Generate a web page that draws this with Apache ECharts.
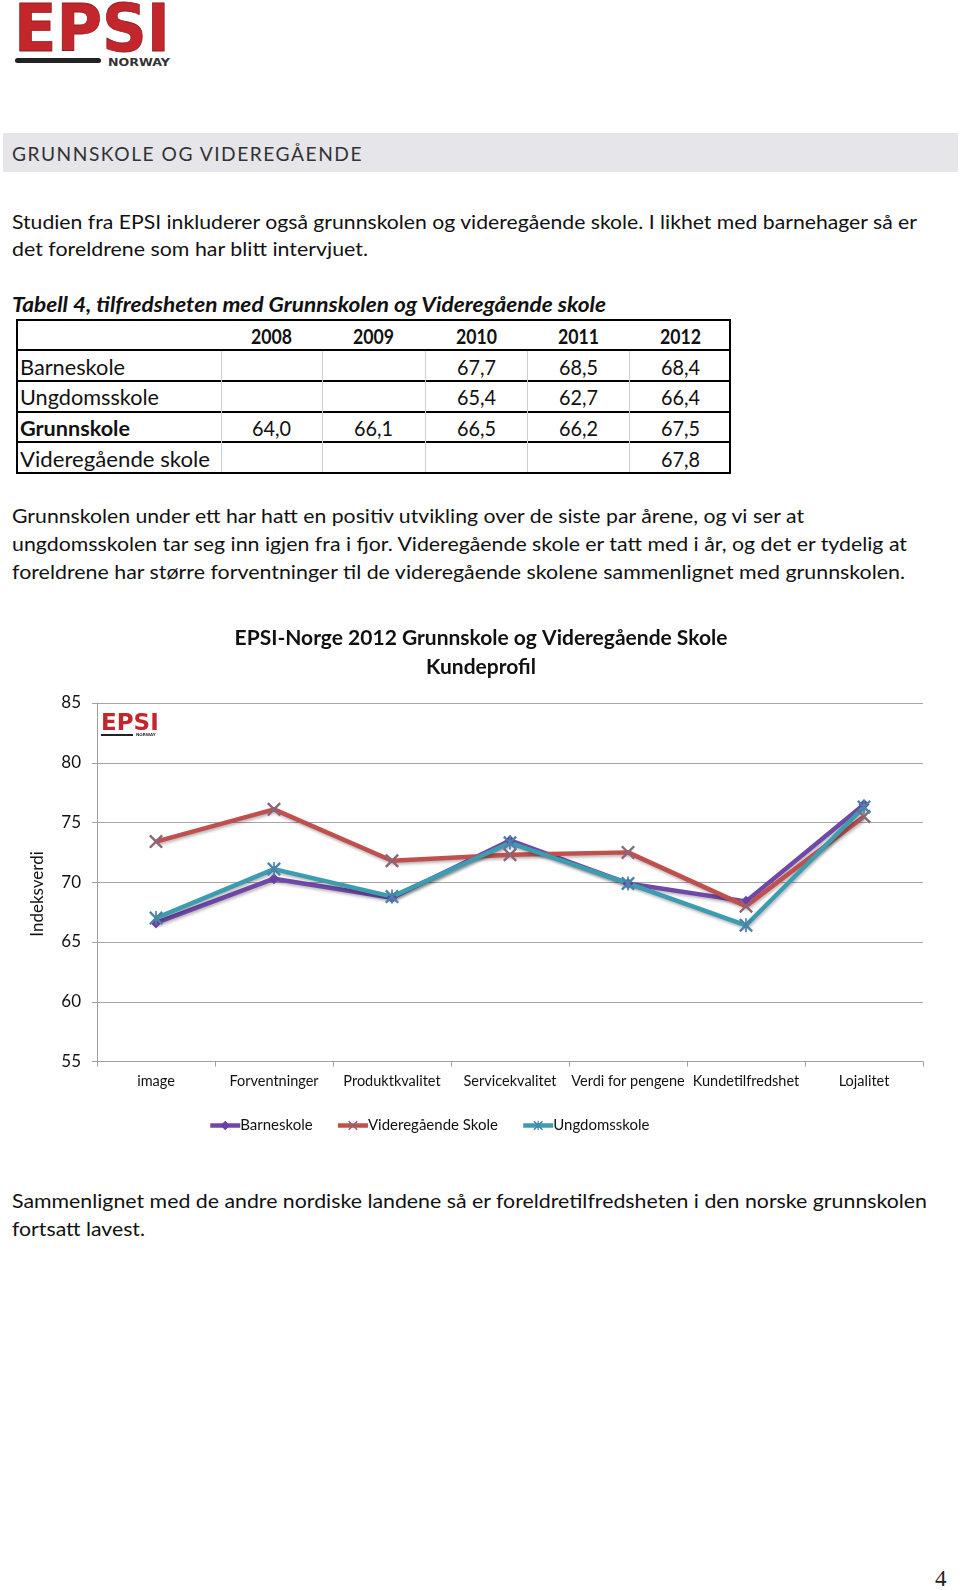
<!DOCTYPE html>
<html>
<head>
<meta charset="utf-8">
<script src="https://cdn.jsdelivr.net/npm/echarts/dist/echarts.min.js"></script>
<style>
  html, body { margin:0; padding:0; background:#fff; }
  #page { position:relative; width:960px; height:1590px; overflow:hidden; background:#fff; font-family:Lato, "Open Sans", sans-serif; color:#111; }
  .ln { position:absolute; white-space:nowrap; line-height:26px; transform-origin:0 50%; }
  .hl { position:absolute; background:#000; }
  .vl { position:absolute; background:#c5cdd8; }
  #chart { position:absolute; left:0; top:600px; width:960px; height:560px; }
</style>
</head>
<body>
<div id="page">
  <svg style="position:absolute;left:0;top:0" width="200" height="80">
    <text x="14" y="51" font-family="DejaVu Sans" font-weight="bold" font-size="66" fill="#c3272b" stroke="#8a1c1f" stroke-width="0.8" textLength="156" lengthAdjust="spacingAndGlyphs">EPSI</text>
    <rect x="15" y="58" width="86" height="5" rx="2.5" fill="#222"/>
    <text x="108" y="66" font-family="DejaVu Sans" font-weight="bold" font-size="10" fill="#333" textLength="62" lengthAdjust="spacingAndGlyphs">NORWAY</text>
  </svg>
  <div style="position:absolute;left:3px;top:133px;width:955px;height:39px;background:#e5e5ea;"></div>
  <div id="chart"></div>
</div>
<script>
// ---------- chart data ----------
const categories = ['image', 'Forventninger', 'Produktkvalitet', 'Servicekvalitet', 'Verdi for pengene', 'Kundetilfredshet', 'Lojalitet'];
const seriesNames = ['Barneskole', 'Videregående Skole', 'Ungdomsskole'];
const barneskole   = [66.6, 70.3, 68.7, 73.5, 69.9, 68.4, 76.5];
const videregaende = [73.4, 76.1, 71.8, 72.3, 72.5, 68.0, 75.5];
const ungdomsskole = [67.0, 71.1, 68.8, 73.3, 69.9, 66.4, 76.3];
const yTicks = [55, 60, 65, 70, 75, 80, 85];

// ---------- table data ----------
const tableYears = ['2008', '2009', '2010', '2011', '2012'];
const tableLabels = ['Barneskole', 'Ungdomsskole', 'Grunnskole', 'Videregående skole'];
const tBarneskole   = ['', '', '67,7', '68,5', '68,4'];
const tUngdomsskole = ['', '', '65,4', '62,7', '66,4'];
const tGrunnskole   = ['64,0', '66,1', '66,5', '66,2', '67,5'];
const tVideregaende = ['', '', '', '', '67,8'];
const tableRows = [tBarneskole, tUngdomsskole, tGrunnskole, tVideregaende];

const page = document.getElementById('page');

function addLine(o) {
  const d = document.createElement('div');
  d.className = 'ln';
  d.textContent = o.t;
  d.style.fontSize = (o.fs || 20) + 'px';
  if (o.fw) d.style.fontWeight = o.fw;
  if (o.it) d.style.fontStyle = 'italic';
  if (o.ls) d.style.letterSpacing = o.ls + 'px';
  if (o.color) d.style.color = o.color;
  if (o.ff) d.style.fontFamily = o.ff;
  d.style.top = (o.y - 13) + 'px';
  d.style.left = '0px';
  page.appendChild(d);
  const nw = d.getBoundingClientRect().width;
  let sx = 1;
  if (o.w) sx = o.w / nw;
  const realW = nw * sx;
  let left = o.x;
  if (o.cx !== undefined) left = o.cx - realW / 2;
  d.style.left = left + 'px';
  if (sx !== 1) d.style.transform = 'scaleX(' + sx + ')';
  return d;
}

// header band text
addLine({ t: 'GRUNNSKOLE OG VIDEREGÅENDE', x: 12, y: 154, w: 351, fs: 19, ls: 1.5, color: '#333' });

// paragraph 1
addLine({ t: 'Studien fra EPSI inkluderer også grunnskolen og videregående skole. I likhet med barnehager så er', x: 12, y: 221, w: 905 });
addLine({ t: 'det foreldrene som har blitt intervjuet.', x: 12, y: 248, w: 356 });

// table caption
addLine({ t: 'Tabell 4, tilfredsheten med Grunnskolen og Videregående skole', x: 12, y: 304, w: 594, fw: 'bold', it: true, fs: 20.5 });

// table
const colsX = [16, 221, 322, 425, 527, 629, 731];
const rowsY = [319, 350, 381, 411.5, 442, 473];
(function drawTable() {
  const box = document.createElement('div');
  box.style.cssText = 'position:absolute;box-sizing:border-box;border:2px solid #000;left:' + colsX[0] + 'px;top:' + rowsY[0] + 'px;width:' + (colsX[6] - colsX[0]) + 'px;height:' + (rowsY[5] - rowsY[0] + 1) + 'px;';
  page.appendChild(box);
  for (let i = 1; i < 5; i++) {
    const h = document.createElement('div');
    h.className = 'hl';
    h.style.cssText = 'left:' + colsX[0] + 'px;top:' + (rowsY[i] - 1) + 'px;width:' + (colsX[6] - colsX[0]) + 'px;height:2px;';
    page.appendChild(h);
  }
  for (let j = 1; j < 6; j++) {
    const v = document.createElement('div');
    v.className = 'vl';
    v.style.cssText = 'left:' + colsX[j] + 'px;top:' + (rowsY[1] + 1) + 'px;width:1px;height:' + (rowsY[5] - rowsY[1] - 2) + 'px;';
    page.appendChild(v);
  }
  const labelW = [105, 139, 110, 190];
  tableYears.forEach((yr, j) => {
    addLine({ t: yr, cx: (colsX[j + 1] + colsX[j + 2]) / 2, y: (rowsY[0] + rowsY[1]) / 2 + 1, fs: 20, fw: 'bold', w: 41 });
  });
  tableRows.forEach((row, i) => {
    const cy = (rowsY[i + 1] + rowsY[i + 2]) / 2 + 1;
    addLine({ t: tableLabels[i], x: 20, y: cy, w: labelW[i], fs: 21, fw: i === 2 ? 'bold' : null });
    row.forEach((val, j) => {
      if (val) addLine({ t: val, cx: (colsX[j + 1] + colsX[j + 2]) / 2, y: cy, fs: 21, w: 39 });
    });
  });
})();

// paragraph 2
addLine({ t: 'Grunnskolen under ett har hatt en positiv utvikling over de siste par årene, og vi ser at', x: 12, y: 515, w: 792 });
addLine({ t: 'ungdomsskolen tar seg inn igjen fra i fjor. Videregående skole er tatt med i år, og det er tydelig at', x: 12, y: 543, w: 895 });
addLine({ t: 'foreldrene har større forventninger til de videregående skolene sammenlignet med grunnskolen.', x: 12, y: 571, w: 893 });

// paragraph 3
addLine({ t: 'Sammenlignet med de andre nordiske landene så er foreldretilfredsheten i den norske grunnskolen', x: 12, y: 1200, w: 915 });
addLine({ t: 'fortsatt lavest.', x: 12, y: 1228, w: 133 });

// page number
addLine({ t: '4', x: 935, y: 1579, fs: 23, ff: '"Liberation Serif", serif', color: '#222' });

// ---------- chart ----------
const X_PATH = 'path://M0,1.2 L1.2,0 L10,8.8 L8.8,10 Z M8.8,0 L10,1.2 L1.2,10 L0,8.8 Z';
const STAR_PATH = 'path://M0,1.2 L1.2,0 L10,8.8 L8.8,10 Z M8.8,0 L10,1.2 L1.2,10 L0,8.8 Z M4.4,0 L5.6,0 L5.6,10 L4.4,10 Z';
const shadow = { shadowColor: 'rgba(0,0,0,0.28)', shadowBlur: 3, shadowOffsetX: 1, shadowOffsetY: 2 };

const chart = echarts.init(document.getElementById('chart'), null, { renderer: 'canvas' });
chart.setOption({
  animation: false,
  textStyle: { fontFamily: 'Lato' },
  grid: { left: 97, top: 103, width: 826, height: 358.5 },
  xAxis: {
    type: 'category',
    data: categories,
    boundaryGap: true,
    axisLine: { lineStyle: { color: '#a0a0a0', width: 1 } },
    axisTick: { show: true, length: 5, lineStyle: { color: '#a0a0a0' } },
    axisLabel: { fontSize: 14.5, color: '#111', margin: 12, interval: 0 }
  },
  yAxis: {
    type: 'value',
    min: yTicks[0],
    max: yTicks[yTicks.length - 1],
    interval: yTicks[1] - yTicks[0],
    axisLine: { show: true, lineStyle: { color: '#a0a0a0', width: 1 } },
    axisTick: { show: true, length: 5, lineStyle: { color: '#a0a0a0' } },
    splitLine: { show: true, lineStyle: { color: '#a6a6a6', width: 1 } },
    axisLabel: { fontSize: 17, color: '#111', margin: 16 }
  },
  legend: {
    left: 203,
    top: 513,
    itemWidth: 30,
    itemHeight: 12,
    itemGap: 23,
    lineStyle: { width: 4.5 },
    textStyle: { fontSize: 15, color: '#111', padding: [0, 0, 0, -5] },
    data: seriesNames
  },
  series: [
    {
      name: seriesNames[0], type: 'line', data: barneskole,
      symbol: 'diamond', symbolSize: 11,
      lineStyle: Object.assign({ color: '#7048a8', width: 4.5 }, shadow),
      itemStyle: { color: '#6a3fa6' }
    },
    {
      name: seriesNames[1], type: 'line', data: videregaende,
      symbol: X_PATH, symbolSize: 14,
      lineStyle: Object.assign({ color: '#c0504d', width: 4.5 }, shadow),
      itemStyle: { color: '#8c6474' }
    },
    {
      name: seriesNames[2], type: 'line', data: ungdomsskole,
      symbol: STAR_PATH, symbolSize: 14,
      lineStyle: Object.assign({ color: '#3e9cb0', width: 4.5 }, shadow),
      itemStyle: { color: '#4a84a8' }
    }
  ],
  graphic: [
    { type: 'text', x: 481, y: 38, style: { text: 'EPSI-Norge 2012 Grunnskole og Videregående Skole', textAlign: 'center', textVerticalAlign: 'middle', font: 'bold 21px Lato', fill: '#111' } },
    { type: 'text', x: 481, y: 67, style: { text: 'Kundeprofil', textAlign: 'center', textVerticalAlign: 'middle', font: 'bold 21px Lato', fill: '#111' } },
    { type: 'text', x: 38, y: 294, rotation: Math.PI / 2, style: { text: 'Indeksverdi', textAlign: 'center', textVerticalAlign: 'middle', font: '17px Lato', fill: '#111' } },
    { type: 'text', x: 101, y: 113, style: { text: 'EPSI', textAlign: 'left', textVerticalAlign: 'top', font: 'bold 23px "DejaVu Sans"', fill: '#c3272b' } },
    { type: 'rect', shape: { x: 101, y: 134, width: 32, height: 2 }, style: { fill: '#222' } },
    { type: 'text', x: 136, y: 135, style: { text: 'NORWAY', textVerticalAlign: 'middle', font: 'bold 4px "DejaVu Sans"', fill: '#333' } }
  ]
});
</script>
</body>
</html>
